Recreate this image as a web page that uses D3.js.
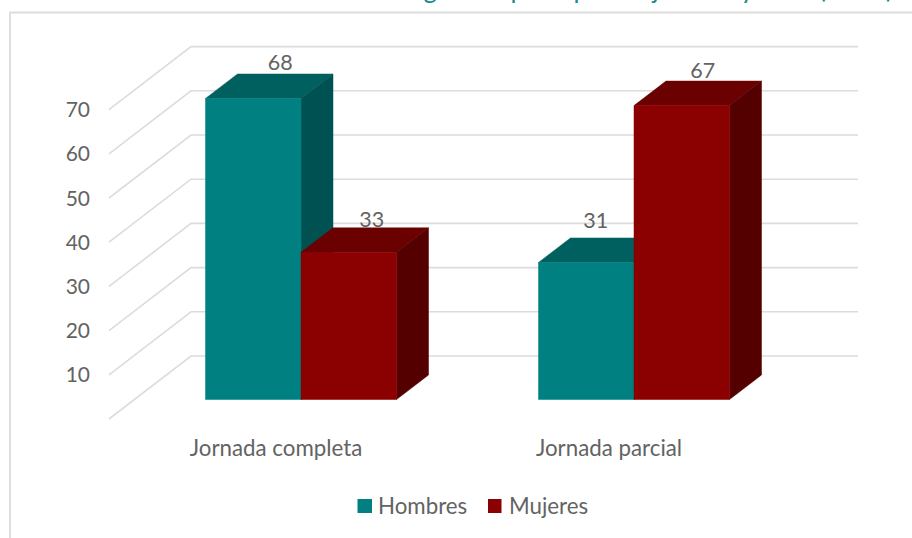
<!DOCTYPE html>
<html><head><meta charset="utf-8">
<script src="https://cdnjs.cloudflare.com/ajax/libs/d3/7.8.5/d3.min.js"></script>
<style>html,body{margin:0;padding:0;background:#fff}svg{display:block}text{font-family:Lato,"Open Sans",sans-serif}</style>
</head><body><div id="chart"></div>
<script>
const categories = ["Jornada completa", "Jornada parcial"];
const seriesNames = ["Hombres", "Mujeres"];
const hombres = [68.1, 31.0];
const mujeres = [33.3, 66.5];
const tickValues = [10, 20, 30, 40, 50, 60, 70];
const gridValues = [0, 10, 20, 30, 40, 50, 60, 70];
const titleWords = ["Ingresos ", "por ", "tipo de ", "jornada ", "y sexo (2019)"];

const W = 912, H = 538;
const svg = d3.select("#chart").append("svg").attr("width", W).attr("height", H);
const gray = "#636363", gridC = "#dcdcdc";
const palette = {
  Hombres: {front:"#008080", top:"#006060", side:"#005252"},
  Mujeres: {front:"#8b0000", top:"#6b0000", side:"#550000"}
};
// bar plane scales
const y = d3.scaleLinear().domain([0, 70]).range([399.5, 90.1]);
const x0 = d3.scaleBand().domain(categories).range([134.5, 800.5]);
const x1 = d3.scaleBand().domain(seriesNames).range([x0.step()/2 - 95.5, x0.step()/2 + 95.5]);
const depth = {dx: 32, dy: -24.5};
const wallBack = {dx: 56.5, dy: -43.5};
const wallFront = {dx: -25.5, dy: 19.5};
const wallRight = 858;

// frame
svg.append("path").attr("d", d3.line()([[10, H],[10, 12.5],[W, 12.5]]))
  .attr("fill","none").attr("stroke",gridC).attr("stroke-width",1.8);

// clipped title
const titleGaps = [0, 7, 2, 8, -3];
svg.append("text").attr("x", 893).attr("y", -2).attr("text-anchor","end")
  .attr("font-size",26).attr("fill","#1a8a8a")
  .selectAll("tspan").data(titleWords).join("tspan")
  .attr("dx", (d,i) => titleGaps[i]).text(d => d);

// walls
const p = (v, o) => [x0.range()[0] + o.dx, y(v) + o.dy];
const grid = svg.append("g").attr("fill","none").attr("stroke",gridC).attr("stroke-width",1.6);
gridValues.forEach(v => {
  grid.append("path").attr("d", d3.line()([p(v, wallFront), p(v, wallBack), [wallRight, y(v)+wallBack.dy]]));
});

// axis labels
svg.append("g").selectAll("text").data(tickValues).join("text")
  .attr("x", 90).attr("y", d => p(d, wallFront)[1]).attr("dy","0.36em")
  .attr("text-anchor","end").attr("font-size",21).attr("fill",gray).text(d => d);

// bars
const rows = [];
categories.forEach((c,i) => {
  rows.push({c, s:"Hombres", v:hombres[i]});
  rows.push({c, s:"Mujeres", v:mujeres[i]});
});
const labelNudge = [[27,-28],[23,-25.5],[9.5,-34],[21,-28]];
const line = d3.line();
rows.forEach((r,i) => {
  const g = svg.append("g"), c = palette[r.s];
  const xl = x0(r.c) + x1(r.s), xr = xl + x1.bandwidth();
  const yt = y(r.v), yb = y(0), dx = depth.dx, dy = depth.dy;
  const face = (pts, col) => g.append("path").attr("d", line(pts)+"Z").attr("fill",col).attr("stroke",col).attr("stroke-width",0.5);
  face([[xl,yt],[xr,yt],[xr+dx,yt+dy],[xl+dx,yt+dy]], c.top);
  face([[xr,yt],[xr+dx,yt+dy],[xr+dx,yb+dy],[xr,yb]], c.side);
  face([[xl,yt],[xr,yt],[xr,yb],[xl,yb]], c.front);
});
// data labels
rows.forEach((r,i) => {
  const xl = x0(r.c) + x1(r.s);
  svg.append("text").attr("x", xl + x1.bandwidth()/2 + labelNudge[i][0]).attr("y", y(r.v) + labelNudge[i][1])
    .attr("text-anchor","middle").attr("font-size",21.5).attr("fill",gray).text(d3.format(".0f")(r.v));
});
// category labels
svg.append("g").selectAll("text").data(categories).join("text")
  .attr("x", d => x0(d) + x0.bandwidth()/2 - 25).attr("y",456)
  .attr("text-anchor","middle").attr("font-size",22.3).attr("fill",gray).text(d => d);

// legend
const legendX = {Hombres:357.5, Mujeres:488};
seriesNames.forEach(s => {
  svg.append("rect").attr("x",legendX[s]).attr("y",499).attr("width",s==="Hombres"?14.5:13.5).attr("height",14).attr("fill",palette[s].front);
  svg.append("text").attr("x",legendX[s]+(s==="Hombres"?20.5:21)).attr("y",513.5).attr("font-size",22.3).attr("fill",gray).text(s);
});
</script></body></html>
